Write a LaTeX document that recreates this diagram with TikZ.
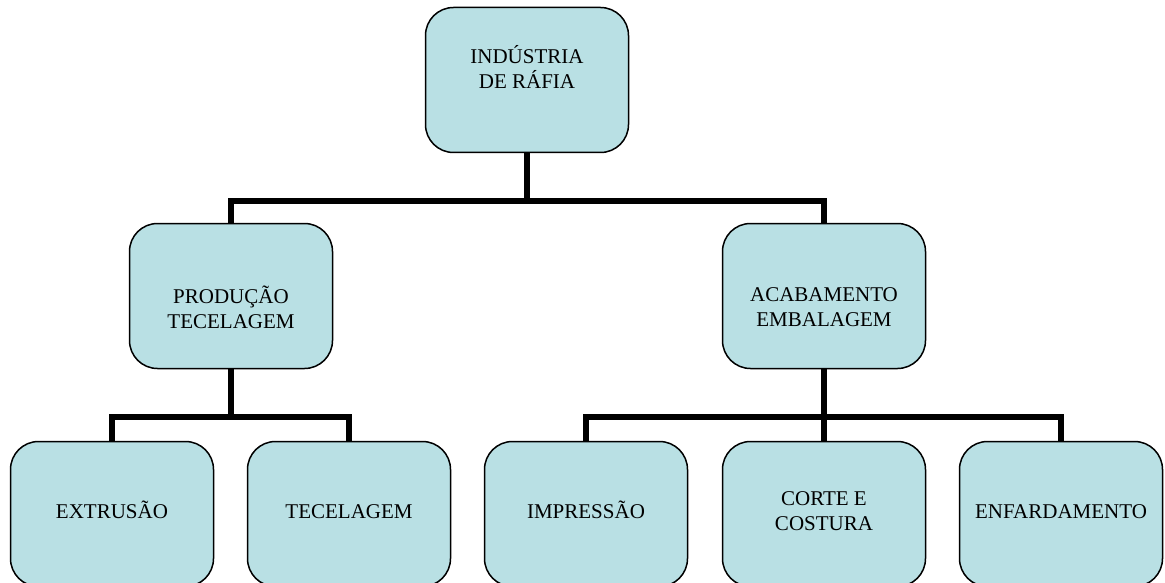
\documentclass[tikz,border=0pt]{standalone}
\usepackage{fontspec}
\setmainfont{Liberation Serif}
\definecolor{boxfill}{RGB}{185,224,228}
\begin{document}
\begin{tikzpicture}[x=1pt,y=-1pt,
  box/.style={draw=black,line width=1.5pt,fill=boxfill,rounded corners=28pt,
    minimum width=203pt,minimum height=145pt,inner sep=0pt},
  lbl/.style={align=center,font=\fontsize{21}{25}\selectfont,inner sep=0pt},
  lbl1/.style={lbl,anchor=base},
  conn/.style={line width=6pt,line join=miter,line cap=butt}]
\useasboundingbox (0,0) rectangle (1165,583);
\clip (0,0) rectangle (1165,583);
% junctions
\coordinate (j1) at (527,201);
\coordinate (j2) at (231,417);
\coordinate (j3) at (824,417);
% boxes
\node[box] (top) at (527,80) {};
\node[box] (prod) at (231,296) {};
\node[box] (acab) at (824,296) {};
\node[box] (extr) at (112,514) {};
\node[box] (tece) at (349,514) {};
\node[box] (impr) at (586,514) {};
\node[box] (cort) at (824,514) {};
\node[box] (enfa) at (1061,514) {};
% connectors
\draw[conn] (top.south) -- (j1);
\draw[conn] (prod.north) |- (j1) -| (acab.north);
\draw[conn] (prod.south) -- (j2);
\draw[conn] (extr.north) |- (j2) -| (tece.north);
\draw[conn] (acab.south) -- (cort.north);
\draw[conn] (impr.north) |- (j3) -| (enfa.north);
% labels
\node[lbl] (ltop) at (527,67) {INDÚSTRIA\\DE RÁFIA};
\node[lbl] (lprod) at (231,307) {PRODUÇÃO\\TECELAGEM};
\node[lbl] (lacab) at (824,307) {ACABAMENTO\\EMBALAGEM};
\node[lbl1] (lextr) at (112,518) {EXTRUSÃO};
\node[lbl1] (ltece) at (349,518) {TECELAGEM};
\node[lbl1] (limpr) at (586,518) {IMPRESSÃO};
\node[lbl] (lcort) at (824,511) {CORTE E\\COSTURA};
\node[lbl1] (lenfa) at (1061,518) {ENFARDAMENTO};
\end{tikzpicture}
\end{document}
